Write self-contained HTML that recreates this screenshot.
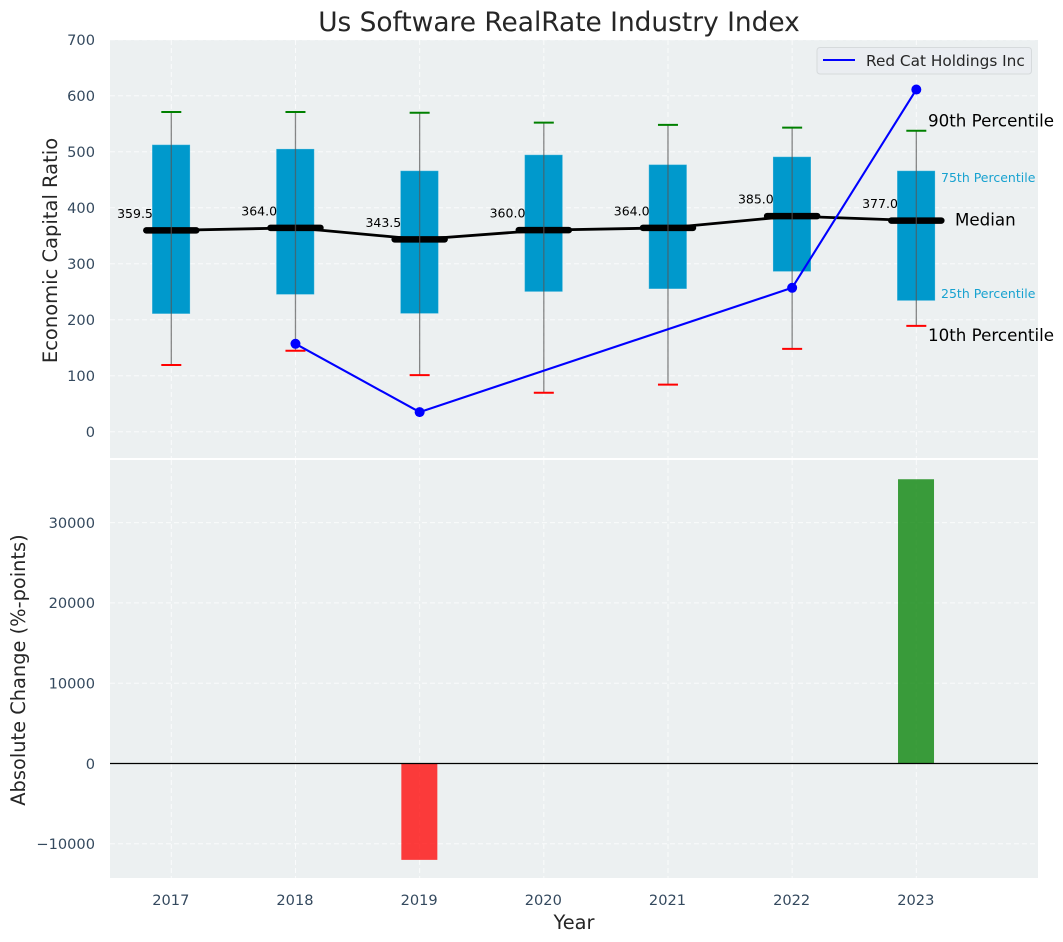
<!DOCTYPE html>
<html lang="en">
<head>
<meta charset="utf-8">
<title>Us Software RealRate Industry Index</title>
<style>
html,body{margin:0;padding:0;background:#fff;}
svg{display:block;font-family:"DejaVu Sans","Liberation Sans",sans-serif;}
</style>
</head>
<body>
<svg id="chart" xmlns="http://www.w3.org/2000/svg" width="1063" height="942" viewBox="0 0 1063 942">
  <rect x="110" y="40" width="928" height="418" fill="#ecf0f1"/>
  <rect x="110" y="460" width="928" height="418" fill="#ecf0f1"/>
  <g id="grid"></g>
  <g id="boxes"></g>
  <g id="bars"></g>
  <g id="ticks"></g>
  <text x="559" y="31" text-anchor="middle" font-size="26.4" fill="#262626">Us Software RealRate Industry Index</text>
  <text transform="translate(57,250.5) rotate(-90)" text-anchor="middle" font-size="19.5" fill="#262626">Economic Capital Ratio</text>
  <text transform="translate(25,670) rotate(-90)" text-anchor="middle" font-size="19.4" fill="#262626">Absolute Change (%-points)</text>
  <text x="574" y="929" text-anchor="middle" font-size="19.4" fill="#262626">Year</text>
  <text id="label-p90" font-size="16.7" fill="#000">90th Percentile</text>
  <text id="label-p75" font-size="12.5" fill="#0099cc" fill-opacity="0.9">75th Percentile</text>
  <text id="label-med" font-size="16.7" fill="#000">Median</text>
  <text id="label-p25" font-size="12.5" fill="#0099cc" fill-opacity="0.9">25th Percentile</text>
  <text id="label-p10" font-size="16.7" fill="#000">10th Percentile</text>
  <g>
    <rect x="817" y="47.5" width="214.5" height="26.5" rx="3" fill="#eaedf1" stroke="#d6dadc" stroke-width="1"/>
    <line x1="823" y1="60" x2="855" y2="60" stroke="#0000ff" stroke-width="2"/>
    <text x="866" y="66" font-size="15.3" fill="#262626">Red Cat Holdings Inc</text>
  </g>
</svg>
<script>
const years = [2017, 2018, 2019, 2020, 2021, 2022, 2023];
const p90 = [571, 571, 569.5, 552, 548, 543, 537.5];
const p75 = [512.5, 505, 466, 494.5, 477, 491, 466];
const median = [359.5, 364.0, 343.5, 360.0, 364.0, 385.0, 377.0];
const p25 = [210.5, 245, 211, 250, 255, 286, 234];
const p10 = [119, 144.5, 101, 69.5, 84, 148, 189];
const companyYears = [2018, 2019, 2022, 2023];
const companyValues = [157, 35, 257, 611];
const changeYears = [2019, 2023];
const changeValues = [-12000, 35400];
const topTicks = [0, 100, 200, 300, 400, 500, 600, 700];
const bottomTicks = [-10000, 0, 10000, 20000, 30000];

const NS = 'http://www.w3.org/2000/svg';
const xScale = v => 171.3 + (v - 2017) * 124.17;
const yTop = v => 431.7 - v * 0.56;
const yBottom = v => 763.5 - v * 0.00803;

function make(parent, tag, attrs, text) {
  const el = document.createElementNS(NS, tag);
  for (const k in attrs) el.setAttribute(k, attrs[k]);
  if (text !== undefined) el.textContent = text;
  parent.appendChild(el);
  return el;
}
const gridG = document.getElementById('grid');
const boxG = document.getElementById('boxes');
const barG = document.getElementById('bars');
const tickG = document.getElementById('ticks');
const gridStyle = {stroke: '#ffffff', 'stroke-width': 1, 'stroke-dasharray': '5 3', 'stroke-opacity': 0.75};
const tickColor = '#34495e';

years.forEach(y => {
  const x = xScale(y);
  [[40, 458], [460, 878]].forEach(r => {
    const line = make(gridG, 'line', Object.assign({x1: x, x2: x, y1: r[0], y2: r[1]}, gridStyle));
    
    
  });
  const label = make(tickG, 'text', {x: x - 0.5, y: 905, 'text-anchor': 'middle', 'font-size': 14.6, fill: tickColor}, String(y));
  
  
});
topTicks.forEach(t => {
  const y = yTop(t);
  const line = make(gridG, 'line', Object.assign({x1: 110, x2: 1038, y1: y, y2: y}, gridStyle));
  
  
  const label = make(tickG, 'text', {x: 95, y: y + 5.3, 'text-anchor': 'end', 'font-size': 14.6, fill: tickColor}, String(t));
  
  
});
bottomTicks.forEach(t => {
  const y = yBottom(t);
  const line = make(gridG, 'line', Object.assign({x1: 110, x2: 1038, y1: y, y2: y}, gridStyle));
  
  
  const text = t < 0 ? '\u2212' + Math.abs(t) : String(t);
  const label = make(tickG, 'text', {x: 95, y: y + 5.3, 'text-anchor': 'end', 'font-size': 14.6, fill: tickColor}, text);
  
  
});

years.forEach((y, i) => {
  const x = xScale(y);
  const box = make(boxG, 'rect', {x: x - 19.2, width: 38, y: yTop(p75[i]), height: yTop(p25[i]) - yTop(p75[i]), fill: '#0099cc', stroke: '#ffffff', 'stroke-opacity': 0.25, 'stroke-width': 1});
  
  
});
const medianLine = make(boxG, 'polyline', {points: years.map((y, i) => xScale(y) + ',' + yTop(median[i])).join(' '), fill: 'none', stroke: '#000', 'stroke-width': 2.8});



years.forEach((y, i) => {
  const x = xScale(y);
  const med = make(boxG, 'line', {x1: x - 25, x2: x + 25, y1: yTop(median[i]), y2: yTop(median[i]), stroke: '#000', 'stroke-width': 6.5, 'stroke-linecap': 'round'});
  
  
  const whisker = make(boxG, 'line', {x1: x, x2: x, y1: yTop(p90[i]), y2: yTop(p10[i]), stroke: '#555', 'stroke-opacity': 0.7, 'stroke-width': 1.3});
  
  
  const hi = make(boxG, 'line', {x1: x - 10, x2: x + 10, y1: yTop(p90[i]), y2: yTop(p90[i]), stroke: '#008000', 'stroke-width': 2});
  
  
  const lo = make(boxG, 'line', {x1: x - 10, x2: x + 10, y1: yTop(p10[i]), y2: yTop(p10[i]), stroke: '#ff0000', 'stroke-width': 2});
  
  
  const val = make(boxG, 'text', {x: x - 36.3, y: yTop(median[i]) - 12.5, 'text-anchor': 'middle', 'font-size': 12.5, fill: '#000'}, median[i].toFixed(1));
  
  
});

const companyLine = make(boxG, 'polyline', {points: companyYears.map((y, i) => xScale(y) + ',' + yTop(companyValues[i])).join(' '), fill: 'none', stroke: '#0000ff', 'stroke-width': 2.1});


companyYears.forEach((y, i) => {
  const pt = make(boxG, 'circle', {cx: xScale(y), cy: yTop(companyValues[i]), r: 5, fill: '#0000ff'});
  
  
});

changeYears.forEach((y, i) => {
  const v = changeValues[i];
  const top = yBottom(Math.max(v, 0));
  const bottom = yBottom(Math.min(v, 0));
  const bar = make(barG, 'rect', {x: xScale(y) - 18.3, width: 36, y: top, height: bottom - top, fill: v < 0 ? '#ff0000' : '#008000', 'fill-opacity': 0.76});
  
  
});
const zero = make(barG, 'line', {x1: 110, x2: 1038, y1: yBottom(0), y2: yBottom(0), stroke: '#000', 'stroke-width': 1.3});



const last = years.length - 1;
const lastX = xScale(years[last]);
function place(id, x, y) {
  const el = document.getElementById(id);
  el.setAttribute('x', x);
  el.setAttribute('y', y);
}
place('label-p90', lastX + 11.7, yTop(p90[last]) - 4);
place('label-p75', lastX + 24.7, yTop(p75[last]) + 11.5);
place('label-med', lastX + 38.7, yTop(median[last]) + 5);
place('label-p25', lastX + 24.7, yTop(p25[last]) - 2.5);
place('label-p10', lastX + 11.7, yTop(p10[last]) + 15);
</script>
</body>
</html>
